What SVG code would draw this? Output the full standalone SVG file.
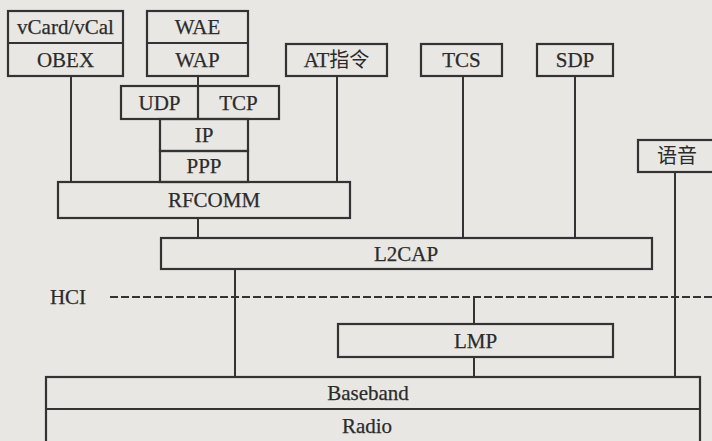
<svg xmlns="http://www.w3.org/2000/svg" width="712" height="441" viewBox="0 0 712 441">
<style>
.b{fill:none;stroke:#333;stroke-width:2.2}
.c{fill:none;stroke:#333;stroke-width:2}
.d{fill:none;stroke:#333;stroke-width:2;stroke-dasharray:8 3}
text{font-family:"Liberation Serif","DejaVu Serif",serif;font-size:21px;fill:#2b2b2b;text-anchor:middle;stroke:#2b2b2b;stroke-width:0.25}
.cjk{font-family:"Noto Sans CJK SC","Noto Sans CJK TC",sans-serif;font-size:20px;font-weight:normal;stroke:none}
</style>
<rect width="712" height="441" fill="#e9e7e3"/>
<g id="connectors">
<line class="c" x1="71" y1="76" x2="71" y2="182"/>
<line class="c" x1="198" y1="76" x2="198" y2="86"/>
<line class="c" x1="337" y1="76" x2="337" y2="182"/>
<line class="c" x1="198" y1="218" x2="198" y2="238"/>
<line class="c" x1="463" y1="76" x2="463" y2="238"/>
<line class="c" x1="575" y1="76" x2="575" y2="238"/>
<line class="c" x1="675" y1="172" x2="675" y2="377"/>
<line class="c" x1="235" y1="269" x2="235" y2="377"/>
<line class="d" x1="110" y1="297" x2="712" y2="297"/>
<line class="c" x1="474" y1="297" x2="474" y2="324"/>
<line class="c" x1="474" y1="357" x2="474" y2="377"/>
<text x="68" y="304">HCI</text>
</g>
<g id="vcard-obex">
<rect class="b" x="8" y="11" width="115" height="65"/>
<line class="b" x1="8" y1="43" x2="123" y2="43"/>
<text x="65.5" y="34">vCard/vCal</text>
<text x="65.5" y="67">OBEX</text>
</g>
<g id="wae-wap">
<rect class="b" x="147" y="11" width="101" height="65"/>
<line class="b" x1="147" y1="43" x2="248" y2="43"/>
<text x="197.5" y="34">WAE</text>
<text x="197.5" y="67">WAP</text>
</g>
<g id="udp-tcp">
<rect class="b" x="121" y="86" width="158" height="33"/>
<line class="b" x1="198" y1="86" x2="198" y2="119"/>
<text x="159.5" y="110">UDP</text>
<text x="238.5" y="110">TCP</text>
</g>
<g id="ip">
<rect class="b" x="160" y="119" width="88" height="32"/>
<text x="204" y="142">IP</text>
</g>
<g id="ppp">
<rect class="b" x="160" y="151" width="88" height="31"/>
<text x="204" y="173">PPP</text>
</g>
<g id="rfcomm">
<rect class="b" x="58" y="182" width="292" height="36"/>
<text x="214" y="207">RFCOMM</text>
</g>
<g id="at">
<rect class="b" x="286" y="44" width="101" height="32"/>
<text x="336.5" y="67">AT<tspan class="cjk">指令</tspan></text>
</g>
<g id="tcs">
<rect class="b" x="421" y="44" width="81" height="32"/>
<text x="461.5" y="67">TCS</text>
</g>
<g id="sdp">
<rect class="b" x="537" y="44" width="76" height="32"/>
<text x="575" y="67">SDP</text>
</g>
<g id="voice">
<rect class="b" x="638" y="140" width="80" height="32"/>
<text class="cjk" x="677" y="163">语音</text>
</g>
<g id="l2cap">
<rect class="b" x="161" y="238" width="491" height="31"/>
<text x="406" y="261">L2CAP</text>
</g>
<g id="lmp">
<rect class="b" x="338" y="324" width="275" height="33"/>
<text x="475.5" y="348">LMP</text>
</g>
<g id="baseband-radio">
<rect class="b" x="46" y="377" width="654" height="70"/>
<line class="b" x1="46" y1="409" x2="700" y2="409"/>
<text x="368" y="400">Baseband</text>
<text x="367" y="433">Radio</text>
</g>
</svg>
